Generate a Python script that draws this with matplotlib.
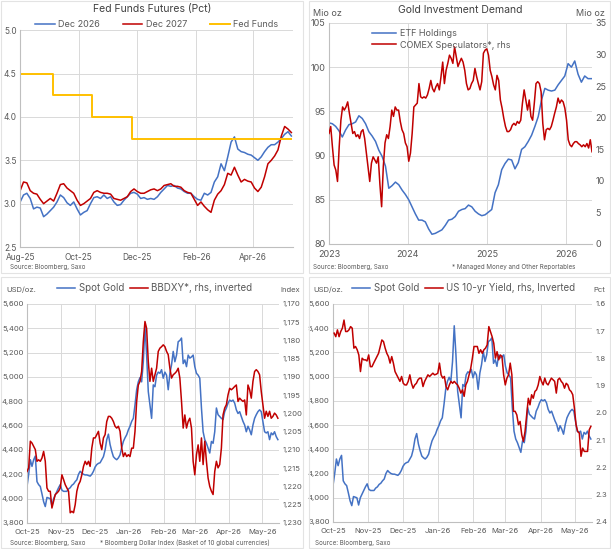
import matplotlib
matplotlib.use('Agg')
import matplotlib.pyplot as plt
import matplotlib.dates as mdates
from matplotlib.patches import Rectangle
from matplotlib.ticker import FuncFormatter
import pandas as pd

plt.rcParams['font.family'] = ['Inter', 'DejaVu Sans']

BLUE = '#4472C4'
RED = '#C00000'
YELLOW = '#FFC000'
GRID = '#d9d9d9'
TXT = '#595959'

#### Data ####

# Fed Funds futures (pct), Aug-25 .. mid May-26
dec2026 = [3.02, 3.10, 3.12, 3.06, 2.94, 2.96, 2.95, 2.85, 2.88, 2.92, 2.96, 3.02, 3.10, 3.07,
           3.01, 2.98, 3.02, 2.94, 2.87, 2.90, 2.92, 3.00, 3.07, 3.08, 3.06, 3.10, 3.06, 3.08,
           3.02, 2.98, 2.99, 3.04, 3.08, 3.12, 3.13, 3.11, 3.06, 3.07, 3.05, 3.06, 3.05, 3.08,
           3.13, 3.17, 3.21, 3.20, 3.21, 3.18, 3.17, 3.14, 3.12, 3.12, 3.08, 3.05, 3.04, 3.12,
           3.10, 3.13, 3.25, 3.31, 3.46, 3.38, 3.54, 3.71, 3.77, 3.63, 3.60, 3.59, 3.57, 3.56,
           3.53, 3.50, 3.54, 3.60, 3.65, 3.68, 3.68, 3.71, 3.75, 3.80, 3.83, 3.78]
dec2027 = [3.15, 3.25, 3.24, 3.15, 3.12, 3.11, 3.05, 3.00, 3.03, 3.06, 3.03, 3.12, 3.22, 3.23,
           3.18, 3.15, 3.12, 3.04, 2.98, 3.00, 3.03, 3.06, 3.13, 3.15, 3.13, 3.12, 3.12, 3.11,
           3.06, 3.05, 3.04, 3.06, 3.08, 3.14, 3.17, 3.14, 3.12, 3.12, 3.14, 3.16, 3.17, 3.15,
           3.17, 3.21, 3.22, 3.23, 3.20, 3.20, 3.19, 3.15, 3.13, 3.12, 3.05, 2.98, 3.02, 2.97,
           2.93, 2.90, 3.04, 3.11, 3.15, 3.22, 3.35, 3.33, 3.42, 3.33, 3.25, 3.28, 3.26, 3.25,
           3.18, 3.14, 3.19, 3.31, 3.46, 3.50, 3.55, 3.62, 3.78, 3.89, 3.86, 3.82]
ff_dates = ['2025-08-01', '2025-09-04', '2025-10-15', '2025-11-26', '2026-05-11']
ff_rate = [4.50, 4.25, 4.00, 3.75, 3.75]

# Gold investment demand, 2023 .. Apr-26
etf_holdings = [93.7, 93.6, 93.3, 92.8, 92.1, 92.9, 93.5, 93.6, 93.8, 94.5, 94.2, 93.6, 92.7, 92.2,
                91.6, 90.6, 89.9, 88.8, 86.3, 86.6, 87.0, 86.7, 86.1, 85.6, 85.0, 84.2, 83.4, 82.7,
                82.7, 82.5, 81.7, 81.1, 81.2, 81.4, 81.6, 82.1, 82.7, 82.8, 83.1, 83.7, 83.9, 84.0,
                84.4, 84.2, 83.7, 83.4, 83.2, 83.3, 83.6, 83.9, 85.8, 86.7, 88.4, 89.1, 89.6, 89.5,
                88.5, 89.2, 90.7, 91.0, 91.6, 92.3, 93.3, 94.4, 96.3, 97.6, 97.4, 97.3, 97.4, 98.0,
                98.5, 99.0, 100.4, 100.0, 100.7, 99.2, 98.3, 99.0, 98.7, 98.7]
comex_specs = [17.5, 18.6, 15.4, 12.5, 11.7, 9.9, 15.4, 19.6, 21.7, 21.2, 21.7, 22.5, 20.7, 19.1,
               17.5, 17.8, 17.0, 17.3, 16.7, 17.8, 18.1, 16.7, 14.4, 12.0, 9.9, 12.8, 13.8, 13.3,
               12.8, 13.8, 9.4, 5.9, 12.3, 16.0, 17.3, 16.7, 18.6, 21.2, 20.2, 21.7, 21.2, 21.2,
               19.4, 18.1, 17.5, 16.0, 15.4, 13.1, 14.4, 17.5, 21.7, 22.0, 22.3, 25.4, 23.3, 23.1,
               23.3, 23.1, 23.6, 24.6, 25.9, 24.6, 24.1, 24.9, 25.4, 24.4, 26.5, 28.8, 25.4, 27.5,
               28.6, 29.9, 29.4, 28.6, 31.2, 29.6, 28.1, 28.8, 29.4, 28.8, 27.5, 25.4, 24.4, 24.6,
               25.4, 25.9, 27.8, 26.5, 25.4, 24.4, 25.7, 30.2, 30.7, 30.9, 29.9, 27.5, 26.5, 25.2,
               24.4, 26.7, 25.9, 22.8, 21.5, 19.9, 18.6, 17.8, 17.8, 18.1, 18.8, 19.1, 18.8, 19.4,
               19.1, 19.6, 22.3, 24.4, 22.8, 21.2, 22.8, 20.2, 19.6, 22.3, 25.4, 25.7, 25.4, 24.1,
               19.1, 16.5, 18.1, 18.3, 18.1, 18.6, 19.6, 20.7, 21.7, 23.1, 22.3, 22.8, 22.5, 21.5,
               19.6, 16.5, 15.7, 15.4, 15.9, 16.2, 16.2, 15.9, 15.7, 15.4, 15.7, 15.4, 15.9, 15.2,
               16.5, 14.6]

# Spot gold (USD/oz), Oct-25 .. mid May-26
spot_gold = [4100, 4200, 4320, 4265, 4320, 4350, 4140, 4115, 4100, 4040, 3975, 3935, 4010, 4005,
             4000, 3940, 4000, 4030, 4060, 4090, 4115, 4070, 4060, 4060, 4060, 4080, 4090, 4110,
             4120, 4140, 4155, 4200, 4225, 4210, 4200, 4195, 4195, 4190, 4185, 4200, 4225, 4260,
             4280, 4290, 4295, 4320, 4345, 4400, 4485, 4530, 4445, 4390, 4345, 4330, 4320, 4335,
             4360, 4420, 4470, 4500, 4525, 4565, 4595, 4635, 4660, 4770, 4895, 4960, 4995, 4960,
             5125, 5420, 5180, 4880, 4770, 4660, 4935, 4920, 5015, 5040, 5030, 5060, 4990, 5040,
             5015, 4895, 5030, 5100, 5210, 5125, 5180, 5290, 5300, 5320, 5110, 5140, 5085, 5180,
             5155, 5165, 5180, 5085, 5030, 5015, 4990, 4745, 4550, 4485, 4455, 4415, 4375, 4470,
             4455, 4550, 4745, 4690, 4675, 4660, 4650, 4715, 4745, 4785, 4810, 4800, 4810, 4785,
             4730, 4700, 4715, 4675, 4635, 4605, 4550, 4595, 4565, 4525, 4605, 4660, 4690, 4715,
             4730, 4715, 4635, 4550, 4540, 4550, 4485, 4540, 4525, 4550, 4510, 4485]

# Bloomberg Dollar Index (rhs, inverted)
bbdxy = [1215.9, 1214.9, 1207.6, 1208.1, 1209.0, 1209.9, 1213.1, 1212.7, 1213.1, 1212.2, 1210.4,
         1213.1, 1220.4, 1221.3, 1221.3, 1225.9, 1224.1, 1222.2, 1221.8, 1221.3, 1220.4, 1216.8,
         1218.1, 1219.5, 1220.4, 1221.3, 1227.2, 1226.8, 1227.2, 1225.0, 1221.3, 1219.5, 1218.6,
         1216.8, 1214.5, 1213.1, 1214.0, 1213.1, 1214.5, 1209.5, 1206.7, 1206.7, 1205.8, 1204.9,
         1208.1, 1209.9, 1206.7, 1205.8, 1202.2, 1200.8, 1200.8, 1201.3, 1202.2, 1203.5, 1204.0,
         1203.5, 1204.9, 1209.5, 1211.8, 1210.8, 1211.8, 1211.3, 1211.8, 1209.5, 1209.5, 1204.9,
         1196.7, 1192.2, 1191.2, 1188.5, 1180.3, 1174.8, 1176.7, 1185.8, 1191.2, 1187.6, 1191.2,
         1189.4, 1187.6, 1183.0, 1182.1, 1181.7, 1181.2, 1181.7, 1183.0, 1183.9, 1187.6, 1190.3,
         1189.4, 1189.0, 1188.5, 1187.6, 1190.3, 1196.7, 1204.0, 1200.4, 1204.0, 1202.2, 1201.3,
         1204.0, 1213.1, 1216.8, 1211.3, 1208.6, 1213.1, 1206.7, 1214.0, 1207.6, 1213.1, 1217.7,
         1220.0, 1221.3, 1222.2, 1215.9, 1213.1, 1214.9, 1214.0, 1209.5, 1200.4, 1198.5, 1197.6,
         1194.9, 1193.1, 1193.5, 1193.1, 1192.6, 1192.2, 1196.7, 1195.8, 1196.3, 1196.7, 1196.3,
         1200.4, 1192.2, 1193.5, 1195.8, 1191.2, 1188.5, 1188.0, 1188.5, 1189.4, 1194.0, 1197.6,
         1201.3, 1199.4, 1200.8, 1199.4, 1201.3, 1200.8, 1199.9, 1200.4, 1201.3]

# US 10-yr yield (pct, rhs, inverted)
us10y = [1.707, 1.720, 1.695, 1.720, 1.701, 1.689, 1.659, 1.701, 1.701, 1.695, 1.683, 1.689, 1.762,
         1.756, 1.768, 1.787, 1.848, 1.799, 1.805, 1.805, 1.809, 1.787, 1.830, 1.830, 1.817, 1.805,
         1.793, 1.781, 1.756, 1.732, 1.738, 1.762, 1.781, 1.793, 1.817, 1.793, 1.817, 1.848, 1.860,
         1.872, 1.884, 1.866, 1.891, 1.897, 1.897, 1.884, 1.860, 1.891, 1.909, 1.897, 1.891, 1.878,
         1.872, 1.872, 1.903, 1.884, 1.872, 1.860, 1.866, 1.860, 1.854, 1.860, 1.858, 1.854, 1.817,
         1.860, 1.872, 1.866, 1.903, 1.915, 1.897, 1.884, 1.891, 1.884, 1.891, 1.897, 1.909, 1.927,
         1.915, 1.939, 1.897, 1.884, 1.860, 1.836, 1.799, 1.756, 1.756, 1.756, 1.781, 1.768, 1.781,
         1.768, 1.762, 1.750, 1.683, 1.701, 1.720, 1.744, 1.799, 1.775, 1.805, 1.787, 1.793, 1.860,
         1.897, 1.872, 1.860, 1.817, 1.860, 1.994, 1.994, 2.007, 2.043, 2.031, 2.080, 2.104, 2.068,
         2.007, 1.946, 1.970, 1.933, 1.946, 1.921, 1.915, 1.897, 1.866, 1.884, 1.897, 1.872, 1.891,
         1.897, 1.884, 1.872, 1.878, 1.884, 1.927, 1.878, 1.872, 1.884, 1.891, 1.909, 1.891, 1.897,
         1.915, 1.921, 1.933, 1.982, 2.043, 2.068, 2.074, 2.159, 2.129, 2.141, 2.141, 2.141, 2.062,
         2.049]

fut_idx = pd.date_range('2025-08-01', '2026-05-11', periods=len(dec2026))
etf_idx = pd.date_range('2023-01-01', '2026-04-28', periods=len(etf_holdings))
cot_idx = pd.date_range('2023-01-01', '2026-05-01', periods=len(comex_specs))
gold_idx = pd.date_range('2025-10-01', '2026-05-15', periods=len(spot_gold))
dxy_idx = pd.date_range('2025-10-01', '2026-05-15', periods=len(bbdxy))
yld_idx = pd.date_range('2025-10-02', '2026-05-15', periods=len(us10y))


def style(ax, fs):
    for s in ['top', 'right']:
        ax.spines[s].set_visible(False)
    for s in ['left', 'bottom']:
        ax.spines[s].set_color('#bfbfbf')
        ax.spines[s].set_linewidth(0.8)
    ax.grid(True, color=GRID, lw=0.7)
    ax.set_axisbelow(True)
    ax.tick_params(length=0, labelsize=fs, colors=TXT, pad=2.5)
    ax.tick_params(axis='x', pad=4.5)


def style_twin(ax2, fs):
    for s in ax2.spines.values():
        s.set_visible(False)
    ax2.tick_params(length=0, labelsize=fs, colors=TXT, pad=2.5)


comma = FuncFormatter(lambda v, p: '{:,.0f}'.format(v))

fig = plt.figure(figsize=(6.11, 5.49), dpi=100)

# panel frames
for (x0, y0, w, h) in [(1, 277, 302, 271), (309, 277, 301, 271), (1, 1, 302, 272), (309, 1, 301, 272)]:
    fig.patches.append(Rectangle((x0 / 611, 1 - (y0 + h) / 549), w / 611, h / 549,
                                 transform=fig.transFigure, fill=False, ec='#e3e3e3', lw=0.8))

#### Panel 1: Fed Funds futures ####
ax1 = fig.add_axes([0.033, 0.550, 0.447, 0.395])
style(ax1, 6)
ax1.plot(fut_idx, dec2026, color=BLUE, lw=1.1, label='Dec 2026')
ax1.plot(fut_idx, dec2027, color=RED, lw=1.1, label='Dec 2027')
ax1.plot(pd.to_datetime(ff_dates), ff_rate, color=YELLOW, lw=1.4, drawstyle='steps-post', label='Fed Funds')
ax1.set_ylim(2.5, 5.0)
ax1.set_yticks([2.5, 3.0, 3.5, 4.0, 4.5, 5.0])
ax1.yaxis.set_major_formatter(FuncFormatter(lambda v, p: '%.1f' % v))
ax1.set_xlim(pd.Timestamp('2025-08-01'), pd.Timestamp('2026-05-13'))
ax1.set_xticks(pd.to_datetime(['2025-08-01', '2025-10-01', '2025-12-01', '2026-02-01', '2026-04-01']))
ax1.xaxis.set_major_formatter(mdates.DateFormatter('%b-%y'))
ax1.legend(loc='lower center', bbox_to_anchor=(0.5, 0.985), ncol=3, frameon=False, fontsize=6.5,
           labelcolor=TXT, handlelength=2.2, columnspacing=2.5, handletextpad=0.4, borderpad=0)
fig.text(152 / 611, 1 - 9 / 549, 'Fed Funds Futures (Pct)', ha='center', va='center', fontsize=7.5, color='#404040')
fig.text(10 / 611, 1 - 267 / 549, 'Source: Bloomberg, Saxo', fontsize=4.5, color=TXT, va='center')

#### Panel 2: Gold investment demand ####
ax2 = fig.add_axes([0.5385, 0.5556, 0.4304, 0.4026])
style(ax2, 6.5)
l1, = ax2.plot(etf_idx, etf_holdings, color=BLUE, lw=1.1, label='ETF Holdings')
ax2.set_ylim(80, 105)
ax2.set_yticks(range(80, 106, 5))
ax2.set_xlim(pd.Timestamp('2023-01-01'), pd.Timestamp('2026-05-01'))
ax2.set_xticks(pd.to_datetime(['2023-01-01', '2024-01-01', '2025-01-01', '2026-01-01']))
ax2.xaxis.set_major_formatter(mdates.DateFormatter('%Y'))
ax2r = ax2.twinx()
style_twin(ax2r, 6.5)
l2, = ax2r.plot(cot_idx, comex_specs, color=RED, lw=1.1, label='COMEX Speculators*, rhs')
ax2r.set_ylim(0, 35)
ax2r.set_yticks(range(0, 36, 5))
ax2r.legend(handles=[l1, l2], loc='upper left', bbox_to_anchor=(0.14, 1.0), frameon=False, fontsize=6.5,
            labelcolor=TXT, handlelength=2.6, handletextpad=0.5, labelspacing=0.25, borderpad=0.2)
fig.text(460 / 611, 1 - 10 / 549, 'Gold Investment Demand', ha='center', va='center', fontsize=7.5, color='#404040')
fig.text(313 / 611, 1 - 13 / 549, 'Mio oz', fontsize=6.5, color=TXT, va='center')
fig.text(605 / 611, 1 - 13 / 549, 'Mio oz', fontsize=6.5, color=TXT, va='center', ha='right')
fig.text(313 / 611, 1 - 267 / 549, 'Source: Bloomberg, Saxo', fontsize=4.5, color=TXT, va='center')
fig.text(575 / 611, 1 - 267 / 549, '* Managed Money and Other Reportables', fontsize=4.5, color=TXT,
         va='center', ha='right')

#### Panel 3: Gold vs BBDXY ####
month_ticks = pd.to_datetime(['2025-10-01', '2025-11-01', '2025-12-01', '2026-01-01',
                              '2026-02-01', '2026-03-01', '2026-04-01', '2026-05-01'])
ax3 = fig.add_axes([0.0442, 0.0474, 0.4124, 0.3989])
style(ax3, 5.5)
g3, = ax3.plot(gold_idx, spot_gold, color=BLUE, lw=1.1, label='Spot Gold')
ax3.set_ylim(3800, 5600)
ax3.set_yticks(range(3800, 5601, 200))
ax3.yaxis.set_major_formatter(comma)
ax3.set_xlim(pd.Timestamp('2025-10-01'), pd.Timestamp('2026-05-16'))
ax3.set_xticks(month_ticks)
ax3.xaxis.set_major_formatter(mdates.DateFormatter('%b-%y'))
ax3r = ax3.twinx()
style_twin(ax3r, 5.5)
d3, = ax3r.plot(dxy_idx, bbdxy, color=RED, lw=1.1, label='BBDXY*, rhs, inverted')
ax3r.set_ylim(1230, 1170)
ax3r.set_yticks(range(1170, 1231, 5))
ax3r.yaxis.set_major_formatter(comma)
ax3r.legend(handles=[g3, d3], loc='center', bbox_to_anchor=(155 / 611, 1 - 288 / 549),
            bbox_transform=fig.transFigure, ncol=2, frameon=False, fontsize=7, labelcolor=TXT,
            handlelength=1.8, handletextpad=0.4, columnspacing=0.6, borderpad=0)
fig.text(6 / 611, 1 - 290 / 549, 'USD/oz.', fontsize=5.5, color=TXT, va='center')
fig.text(300 / 611, 1 - 290 / 549, 'Index', fontsize=5.5, color=TXT, va='center', ha='right')
fig.text(10 / 611, 1 - 543 / 549, 'Source: Bloomberg, Saxo', fontsize=4.5, color=TXT, va='center')
fig.text(270 / 611, 1 - 543 / 549, '* Bloomberg Dollar Index (Basket of 10 global currencies)',
         fontsize=4.5, color=TXT, va='center', ha='right')

#### Panel 4: Gold vs US 10-yr yield ####
ax4 = fig.add_axes([0.545, 0.0492, 0.4239, 0.3971])
style(ax4, 5.5)
g4, = ax4.plot(gold_idx, spot_gold, color=BLUE, lw=1.1, label='Spot Gold')
ax4.set_ylim(3800, 5600)
ax4.set_yticks(range(3800, 5601, 200))
ax4.yaxis.set_major_formatter(comma)
ax4.set_xlim(pd.Timestamp('2025-10-01'), pd.Timestamp('2026-05-16'))
ax4.set_xticks(month_ticks)
ax4.xaxis.set_major_formatter(mdates.DateFormatter('%b-%y'))
ax4r = ax4.twinx()
style_twin(ax4r, 5.5)
y4, = ax4r.plot(yld_idx, us10y, color=RED, lw=1.1, label='US 10-yr Yield, rhs, Inverted')
ax4r.set_ylim(2.4, 1.6)
ax4r.set_yticks([1.6, 1.7, 1.8, 1.9, 2.0, 2.1, 2.2, 2.3, 2.4])
ax4r.yaxis.set_major_formatter(FuncFormatter(lambda v, p: '%.1f' % v))
ax4r.legend(handles=[g4, y4], loc='center', bbox_to_anchor=(464 / 611, 1 - 288 / 549),
            bbox_transform=fig.transFigure, ncol=2, frameon=False, fontsize=7, labelcolor=TXT,
            handlelength=1.8, handletextpad=0.4, columnspacing=0.6, borderpad=0)
fig.text(313 / 611, 1 - 290 / 549, 'USD/oz.', fontsize=5.5, color=TXT, va='center')
fig.text(605 / 611, 1 - 290 / 549, 'Pct', fontsize=5.5, color=TXT, va='center', ha='right')
fig.text(315 / 611, 1 - 543 / 549, 'Source: Bloomberg, Saxo', fontsize=4.5, color=TXT, va='center')

fig.savefig('out.png', dpi=100)
